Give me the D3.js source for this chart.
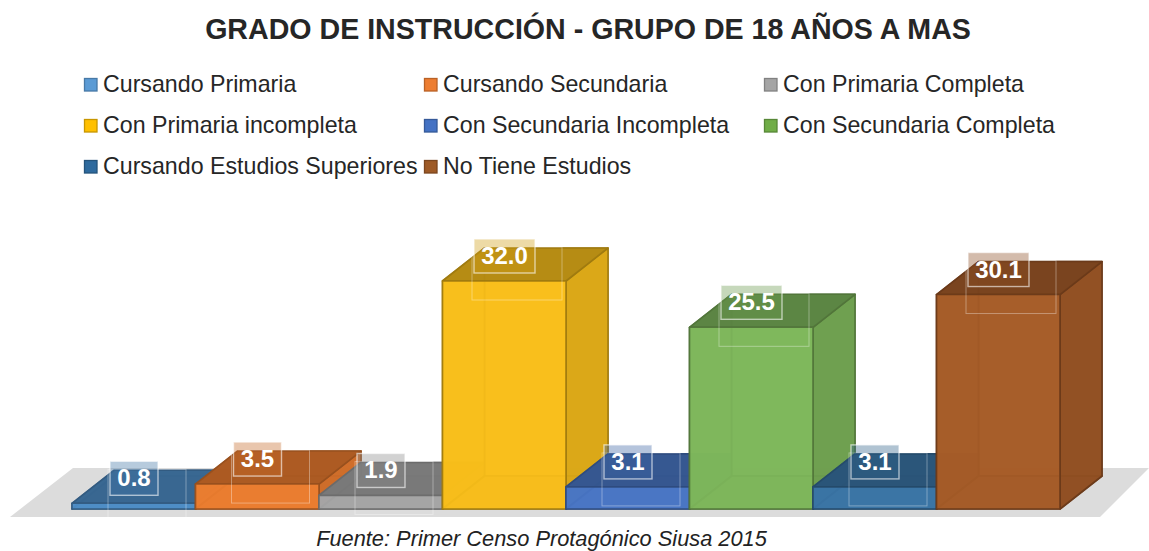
<!DOCTYPE html>
<html><head><meta charset="utf-8">
<script src="https://cdn.jsdelivr.net/npm/d3@7"></script>
<style>html,body{margin:0;padding:0;background:#fff;overflow:hidden}svg{display:block}text{font-family:"Liberation Sans",Arial,sans-serif}</style>
</head><body><svg id="c" width="1149" height="551"></svg>
<script>
const title = "GRADO DE INSTRUCCIÓN - GRUPO DE 18 AÑOS A MAS";
const source = "Fuente: Primer Censo Protagónico Siusa 2015";
const categories = ["Cursando Primaria","Cursando Secundaria","Con Primaria Completa","Con Primaria incompleta","Con Secundaria Incompleta","Con Secundaria Completa","Cursando Estudios Superiores","No Tiene Estudios"];
const values = [0.8,3.5,1.9,32.0,3.1,25.5,3.1,30.1];
const frontColors = ["#4f8fca","#F07F30","#A8A8A8","#FDC21A","#4A78C8","#80B95C","#3B76A8","#A95D28"];
const legendColors = ["#5B9BD5","#ED7D31","#A5A5A5","#FFC000","#4472C4","#70AD47","#2E6A9E","#9E5A26"];

const svg = d3.select("#c");
const x = d3.scaleBand().domain(categories).range([72,1060]).padding(0);
const y = d3.scaleLinear().domain([0,32]).range([509,281]);
const dx = 42, dy = -33;
const col = d3.scaleOrdinal().domain(categories).range(frontColors);
const lcol = d3.scaleOrdinal().domain(categories).range(legendColors);
const dark = (c,k)=>d3.color(c).darker(k).formatHex();
const pts = a=>a.map(p=>p.join(",")).join(" ");

svg.append("text").attr("x",588).attr("y",39).attr("text-anchor","middle")
  .attr("font-size",28.6).attr("font-weight","bold").attr("fill","#262626").text(title);

const colX = d3.scalePoint().domain([0,1,2]).range([84,764]);
const rowY = d3.scalePoint().domain([0,1,2]).range([85,167]);
const leg = svg.append("g").selectAll("g").data(categories).join("g")
  .attr("transform",(d,i)=>`translate(${colX(i%3)},${rowY(Math.floor(i/3))})`);
leg.append("rect").attr("x",0.5).attr("y",-6.5).attr("width",12.5).attr("height",12.5)
  .attr("fill",d=>lcol(d)).attr("stroke",d=>dark(lcol(d),0.7)).attr("stroke-width",1.3);
leg.append("text").attr("x",19).attr("y",7).attr("font-size",23.2).attr("fill","#262626").text(d=>d);

const y0 = y(0);
svg.append("polygon").attr("fill","#dcdcdc")
  .attr("points",pts([[10,y0+8],[1100,y0+8],[1149,y0-41],[73,y0-41]]));

const bars = svg.append("g").selectAll("g").data(categories).join("g");
bars.each(function(d,i){
  const g = d3.select(this), c = col(d);
  const l = x(d), r = l + x.bandwidth(), t = y(values[i]);
  const face = (p,fill,op)=>g.append("polygon").attr("points",pts(p)).attr("fill",fill)
    .attr("fill-opacity",op).attr("stroke",dark(c,1.3)).attr("stroke-opacity",.9).attr("stroke-width",1.6).attr("stroke-linejoin","round");
  face([[l+dx,y0+dy],[r+dx,y0+dy],[r+dx,t+dy],[l+dx,t+dy]],dark(c,0.45),.9);
  face([[l,y0],[l+dx,y0+dy],[l+dx,t+dy],[l,t]],dark(c,0.55),.9);
  face([[l,y0],[r,y0],[r+dx,y0+dy],[l+dx,y0+dy]],dark(c,0.7),.9);
  face([[r,y0],[r+dx,y0+dy],[r+dx,t+dy],[r,t]],dark(c,0.42),.9);
  face([[l,t],[r,t],[r+dx,t+dy],[l+dx,t+dy]],dark(c,0.95),.95);
  face([[l,y0],[r,y0],[r,t],[l,t]],c,.88);
});

const labels = svg.append("g").selectAll("g").data(categories).join("g");
labels.each(function(d,i){
  const g = d3.select(this), c = col(d);
  const v = values[i], s = v.toFixed(1), two = s.length>3;
  const cx = x(d)+62, t = y(v);
  const w = two?61:48, fw = two?90:78;
  g.append("rect").attr("x",cx-w/2-2).attr("y",t-34).attr("width",fw).attr("height",53)
    .attr("fill","none").attr("stroke","#fff").attr("stroke-opacity",.35).attr("stroke-width",1);
  g.append("rect").attr("x",cx-w/2).attr("y",t-42).attr("width",w).attr("height",34)
    .attr("fill",dark(c,0.55)).attr("fill-opacity",.38).attr("stroke","#fff").attr("stroke-opacity",.6).attr("stroke-width",1.4);
  g.append("text").attr("x",cx).attr("y",t-17).attr("text-anchor","middle")
    .attr("font-size",24).attr("font-weight","bold").attr("fill","#fff").text(s);
});

svg.append("text").attr("x",541.5).attr("y",546).attr("text-anchor","middle")
  .attr("font-size",21.8).attr("font-style","italic").attr("fill","#222").text(source);
</script></body></html>
